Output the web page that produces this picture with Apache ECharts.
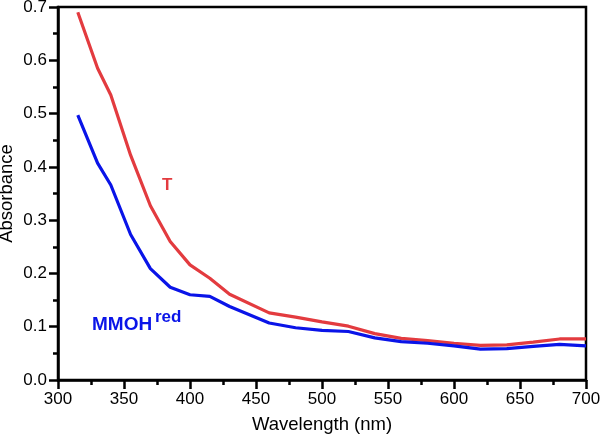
<!DOCTYPE html>
<html>
<head>
<meta charset="utf-8">
<script src="https://cdn.jsdelivr.net/npm/echarts@6/dist/echarts.min.js"></script>
<style>html,body{margin:0;padding:0;background:#fff}#c{width:600px;height:437px}</style>
</head>
<body>
<div id="c"></div>
<script>
var wavelengthT = [315, 330, 340, 355, 370, 385, 400, 415, 430, 460, 480, 500, 520, 540, 560, 580, 600, 620, 640, 660, 680, 700];
var absT =        [0.690, 0.585, 0.535, 0.422, 0.327, 0.260, 0.216, 0.191, 0.161, 0.126, 0.118, 0.109, 0.101, 0.087, 0.078, 0.074, 0.069, 0.065, 0.066, 0.071, 0.077, 0.077];
var wavelengthM = [315, 330, 340, 355, 370, 385, 400, 415, 430, 460, 480, 500, 520, 540, 560, 580, 600, 620, 640, 660, 680, 700];
var absM =        [0.497, 0.407, 0.366, 0.273, 0.209, 0.174, 0.160, 0.157, 0.138, 0.107, 0.098, 0.093, 0.091, 0.079, 0.072, 0.069, 0.064, 0.058, 0.059, 0.063, 0.067, 0.064];
var xTicks = [300, 350, 400, 450, 500, 550, 600, 650, 700];
var yTicks = [0.0, 0.1, 0.2, 0.3, 0.4, 0.5, 0.6, 0.7];
var xTitle = 'Wavelength (nm)';
var yTitle = 'Absorbance';
var labelT = 'T';
var labelM = 'MMOH';
var labelMsup = 'red';

var RED = '#e33b3f';
var BLUE = '#0a14e8';
var FONT = '"Liberation Sans", Arial, sans-serif';

function pairs(xs, ys) { return xs.map(function (x, i) { return [x, ys[i]]; }); }

var chart = echarts.init(document.getElementById('c'));
chart.setOption({
  animation: false,
  backgroundColor: '#fff',
  grid: { left: 58, right: 14, top: 7, bottom: 57, containLabel: false, outerBoundsMode: 'none', show: true, borderColor: '#000', borderWidth: 2.5, backgroundColor: 'transparent' },
  xAxis: {
    type: 'value', min: xTicks[0], max: xTicks[xTicks.length - 1], interval: 50,
    name: xTitle, nameLocation: 'middle', nameGap: 35, nameMoveOverlap: false,
    nameTextStyle: { fontFamily: FONT, fontSize: 18.5, color: '#000' },
    axisLine: { lineStyle: { color: '#000', width: 2.5 } },
    axisTick: { show: true, inside: false, length: 9, lineStyle: { color: '#000', width: 2.5 } },
    minorTick: { show: true, splitNumber: 2, length: 5, lineStyle: { color: '#000', width: 2.5 } },
    axisLabel: { fontFamily: FONT, fontSize: 17, color: '#000', margin: 11, hideOverlap: false },
    splitLine: { show: false }
  },
  yAxis: {
    type: 'value', min: yTicks[0], max: yTicks[yTicks.length - 1], interval: 0.1,
    name: yTitle, nameLocation: 'middle', nameGap: 42, nameRotate: 90, nameMoveOverlap: false,
    nameTextStyle: { fontFamily: FONT, fontSize: 18.5, color: '#000' },
    axisLine: { lineStyle: { color: '#000', width: 2.5 } },
    axisTick: { show: true, inside: false, length: 9, lineStyle: { color: '#000', width: 2.5 } },
    minorTick: { show: true, splitNumber: 2, length: 5, lineStyle: { color: '#000', width: 2.5 } },
    axisLabel: { fontFamily: FONT, fontSize: 17, color: '#000', margin: 11, formatter: function (v) { return v.toFixed(1); } },
    splitLine: { show: false }
  },
  series: [
    { type: 'line', data: pairs(wavelengthT, absT), showSymbol: false, lineStyle: { color: RED, width: 3.2 }, itemStyle: { color: RED }, z: 2 },
    { type: 'line', data: pairs(wavelengthM, absM), showSymbol: false, lineStyle: { color: BLUE, width: 3.2 }, itemStyle: { color: BLUE }, z: 3 }
  ],
  graphic: [
    { type: 'text', left: 162, top: 177, style: { text: labelT, font: 'bold 17px ' + FONT, fill: RED } },
    { type: 'text', left: 92, top: 315, style: { text: labelM, font: 'bold 19px ' + FONT, fill: BLUE } },
    { type: 'text', left: 155, top: 309, style: { text: labelMsup, font: 'bold 17px ' + FONT, fill: BLUE } }
  ]
});
</script>
</body>
</html>
